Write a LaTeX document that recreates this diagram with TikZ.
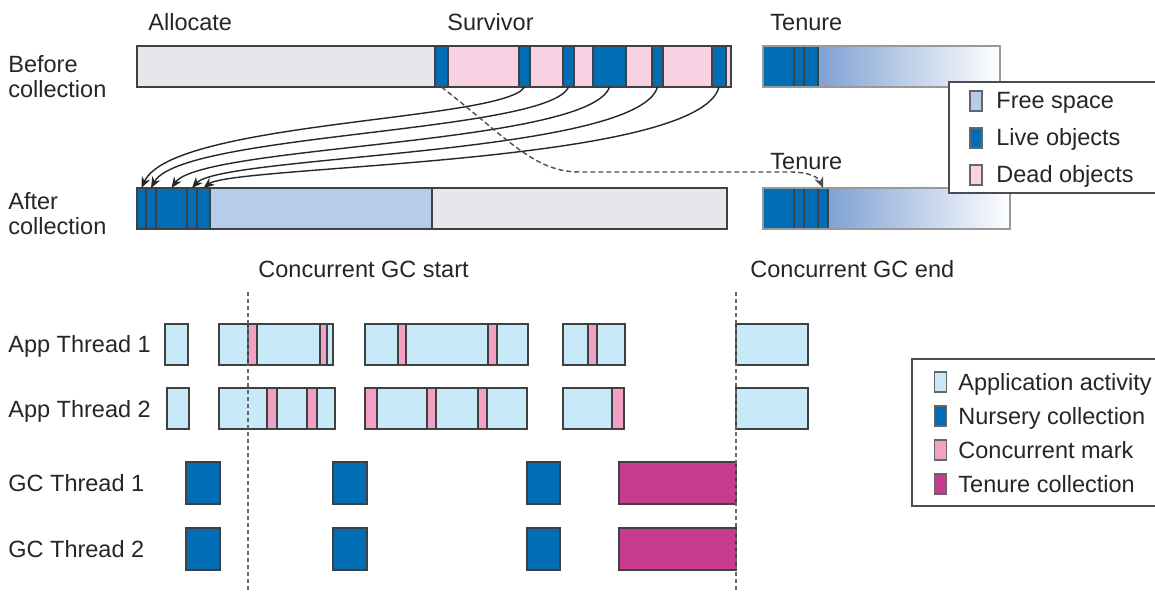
\documentclass[tikz,border=0pt]{standalone}
\usepackage{fontspec}
\setmainfont{Liberation Sans}
\usetikzlibrary{arrows.meta,fit}
\definecolor{allocgrey}{HTML}{E6E7EB}
\definecolor{deadpink}{HTML}{F8D1E2}
\definecolor{liveblue}{HTML}{006DB6}
\definecolor{freeblue}{HTML}{B7CCE9}
\definecolor{tenurefade}{HTML}{7FA1D4}
\definecolor{appblue}{HTML}{C8E9F8}
\definecolor{markpink}{HTML}{F3A0C5}
\definecolor{tenuremag}{HTML}{C83C8F}
\tikzset{%
seg/.style={draw=black!75,line width=0.6pt,inner sep=0pt,outer sep=0pt},
slot/.style={seg,line width=1pt},
lbl/.style={inner sep=0pt,text=black!85},
swatch/.style={draw=black!60,line width=0.6pt,inner sep=0pt,minimum width=6pt,minimum height=10pt},
legendbox/.style={draw=black!70,line width=0.7pt,fill=white,inner sep=0pt},
move/.style={draw=black!85,line width=0.7pt,-{Stealth[length=5.5pt,width=4.5pt]}},
promote/.style={draw=black!70,line width=0.7pt,dash pattern=on 2.5pt off 1.5pt,-{Stealth[length=5.5pt,width=4.5pt]}},
phase/.style={draw=black!60,line width=0.8pt,dash pattern=on 2pt off 1.5pt}
}

\begin{document}
\begin{tikzpicture}[x=0.5pt,y=-0.5pt,font=\fontsize{11.75}{12.5}\selectfont]
\fill[white] (0,0) rectangle (1155,593);
\useasboundingbox (0,0) rectangle (1155,593);

% heap areas
\node[lbl,anchor=base west] (alloc)    at (148,31) {Allocate};
\node[lbl,anchor=base west] (survivor) at (447,31) {Survivor};
\node[lbl,anchor=base west] (tenure)   at (770,31) {Tenure};
\node[lbl,anchor=base west] (tenure2)  at (770,170) {Tenure};
\node[lbl,anchor=north west,align=left] (before) at (8,55)  {Before\\collection};
\node[lbl,anchor=north west,align=left] (after)  at (8,192) {After\\collection};

% before collection
\node[seg,fill=allocgrey,fit={(137,46)(435,87)}] (allocarea) {};
\foreach \a/\b/\c [count=\i] in {435/448/liveblue,448/519/deadpink,519/530/liveblue,
                                 530/563/deadpink,563/574/liveblue,574/593/deadpink,
                                 593/626/liveblue,626/652/deadpink,652/663/liveblue,
                                 663/712/deadpink,712/726/liveblue,726/731/deadpink}
  \node[seg,fill=\c,fit={(\a,46)(\b,87)}] (sv\i) {};
\shade[left color=tenurefade,right color=white] (818,46) rectangle (1000,87);
\foreach \a/\b [count=\i] in {763/794,794/804,804/818}
  \node[seg,fill=liveblue,fit={(\a,46)(\b,87)}] (tb\i) {};
\node[seg,draw=black!40,fit={(763,46)(1000,87)}] (tenbefore) {};

% after collection
\foreach \a/\b [count=\i] in {137/146,146/156,156/187,187/197,197/210}
  \node[seg,fill=liveblue,fit={(\a,188)(\b,229)}] (af\i) {};
\node[seg,fill=freeblue,fit={(210,188)(432,229)}] (freearea) {};
\node[seg,fill=allocgrey,fit={(432,188)(727,229)}] (emptyarea) {};
\shade[left color=tenurefade,right color=white] (828,188) rectangle (1010,229);
\foreach \a/\b [count=\i] in {763/794,794/804,804/818,818/828}
  \node[seg,fill=liveblue,fit={(\a,188)(\b,229)}] (ta\i) {};
\node[seg,draw=black!40,fit={(763,188)(1010,229)}] (tenafter) {};

\foreach \s/\a/\d in {sv3/af1/34,sv5/af2/46,sv7/af3/58,sv9/af4/68,sv11/af5/78}
  \draw[move] (\s.south) .. controls +(-20,\d) and +(30,\d-101) .. (\a.north);
\draw[promote] (sv1.south) .. controls +(70,55) and +(-45,0) .. (580,172) -- (790,172)
               .. controls +(20,0) and +(-4,-10) .. (ta4.north);

% heap key
\node[legendbox,fit={(949,82)(1162,193)}] (heapkey) {};
\foreach \c/\t/\y [count=\i] in {freeblue/Free space/101,liveblue/Live objects/138,deadpink/Dead objects/175}
{
  \node[swatch,fill=\c] (heapsw\i) at (976,\y) {};
  \node[lbl,anchor=base west] (heaptext\i) at (996,\y+8) {\t};
}

% threads
\node[lbl,anchor=base west] (gcstart) at (258,278) {Concurrent GC start};
\node[lbl,anchor=base west] (gcend)   at (750,278) {Concurrent GC end};
\foreach \t/\y [count=\i] in {App Thread 1/344,App Thread 2/409,GC Thread 1/483,GC Thread 2/549}
  \node[lbl,anchor=base west] (thread\i) at (8,\y+8) {\t};

\foreach \a/\b [count=\i] in {165/188,219/333,365/528,563/625,736/808}
  \node[slot,fill=appblue,fit={(\a,324)(\b,365)}] (appone\i) {};
\foreach \a/\b [count=\i] in {248/257,320/327,398/406,488/497,588/597}
  \node[seg,fill=markpink,fit={(\a,324)(\b,365)}] (markone\i) {};
\foreach \a/\b [count=\i] in {167/189,219/335,365/527,563/624,736/808}
  \node[slot,fill=appblue,fit={(\a,388)(\b,429)}] (apptwo\i) {};
\foreach \a/\b [count=\i] in {267/277,307/317,365/377,427/436,478/487,612/624}
  \node[seg,fill=markpink,fit={(\a,388)(\b,429)}] (marktwo\i) {};
\foreach \y/\r in {462/1,528/2}
{
  \foreach \a/\b [count=\i] in {186/220,333/367,527/560}
    \node[slot,fill=liveblue,fit={(\a,\y)(\b,\y+42)}] (nursery\r\i) {};
  \node[slot,fill=tenuremag,fit={(619,\y)(736,\y+42)}] (tenurecoll\r) {};
}

\coordinate (starttop) at (248,292);
\coordinate (startbot) at (248,593);
\coordinate (endtop)   at (736,292);
\coordinate (endbot)   at (736,590);
\draw[phase] (starttop) -- (startbot);
\draw[phase] (endtop) -- (endbot);

% thread key
\node[legendbox,fit={(912,359)(1162,506)}] (threadkey) {};
\foreach \c/\t/\y [count=\i] in {appblue/Application activity/382,liveblue/Nursery collection/416,
                                 markpink/Concurrent mark/450,tenuremag/Tenure collection/484}
{
  \node[swatch,fill=\c] (threadsw\i) at (940.5,\y) {};
  \node[lbl,anchor=base west] (threadtext\i) at (958,\y+8) {\t};
}
\end{tikzpicture}
\end{document}
